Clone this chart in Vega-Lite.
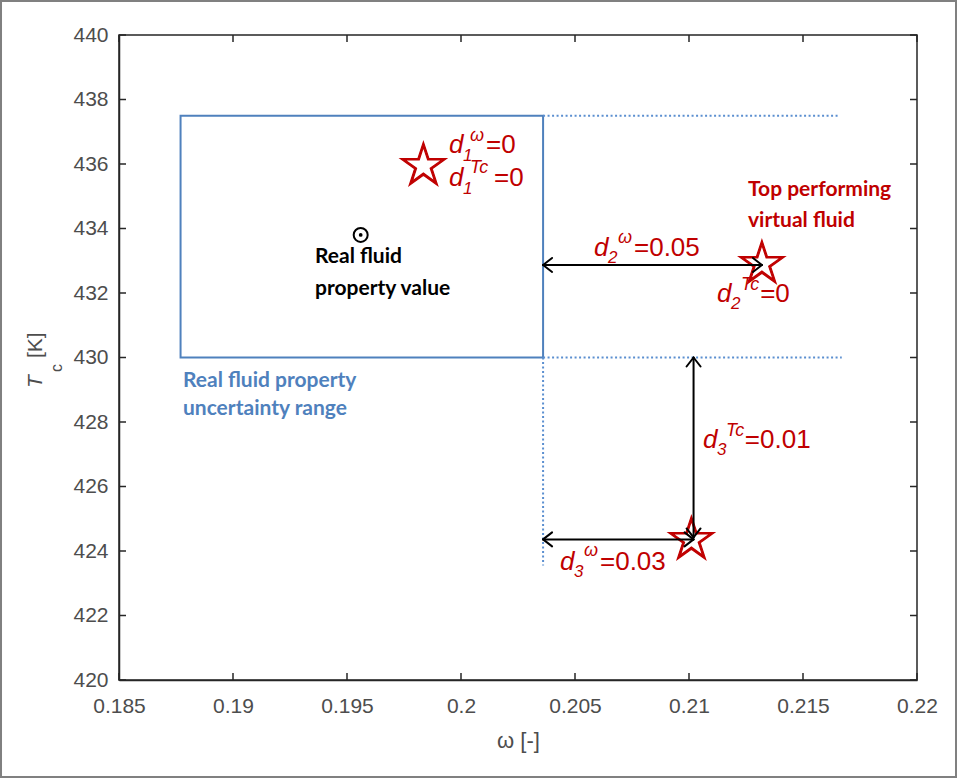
{
  "$schema": "https://vega.github.io/schema/vega-lite/v6.json",
  "width": 798,
  "height": 645,
  "autosize": {"type": "none"},
  "padding": {"left": 119, "top": 35, "right": 40, "bottom": 98},
  "background": "white",
  "config": {"view": {"stroke": "#262626", "strokeWidth": 1.5}},
  "layer": [
    {
      "data": {"values": [{"x": 0.1877, "x2": 0.2036, "y": 430, "y2": 437.5}]},
      "mark": {"type": "rect", "filled": false, "color": "#4F81BD", "strokeWidth": 2},
      "encoding": {
        "x": {"field": "x", "type": "quantitative", "scale": {"domain": [0.185, 0.22], "nice": false, "zero": false},
          "axis": {"values": [0.185, 0.19, 0.195, 0.2, 0.205, 0.21, 0.215, 0.22], "format": "~g", "title": "ω [-]", "ticks": false, "labelPadding": 15, "grid": false, "domainColor": "#262626", "domainWidth": 1.5, "labelColor": "#4D4D4D", "labelFont": "Liberation Sans", "labelFontSize": 21, "labelFlush": false, "labelOverlap": false, "titleFont": "Liberation Sans", "titleFontSize": 22, "titleFontWeight": "normal", "titleColor": "#4D4D4D", "titlePadding": 14}},
        "y": {"field": "y", "type": "quantitative", "scale": {"domain": [420, 440], "nice": false, "zero": false},
          "axis": {"values": [420, 422, 424, 426, 428, 430, 432, 434, 436, 438, 440], "format": "d", "title": null, "ticks": false, "labelPadding": 11, "grid": false, "domainColor": "#262626", "domainWidth": 1.5, "labelColor": "#4D4D4D", "labelFont": "Liberation Sans", "labelFontSize": 21, "labelFlush": false, "labelOverlap": false}},
        "x2": {"field": "x2"},
        "y2": {"field": "y2"}
      }
    },
    {
      "data": {"values": [
        {"x": 0.185, "y": 440, "y2": 439.783}, {"x": 0.19, "y": 440, "y2": 439.783}, {"x": 0.195, "y": 440, "y2": 439.783}, {"x": 0.2, "y": 440, "y2": 439.783}, {"x": 0.205, "y": 440, "y2": 439.783}, {"x": 0.21, "y": 440, "y2": 439.783}, {"x": 0.215, "y": 440, "y2": 439.783}, {"x": 0.22, "y": 440, "y2": 439.783},
        {"x": 0.185, "y": 420, "y2": 420.217}, {"x": 0.19, "y": 420, "y2": 420.217}, {"x": 0.195, "y": 420, "y2": 420.217}, {"x": 0.2, "y": 420, "y2": 420.217}, {"x": 0.205, "y": 420, "y2": 420.217}, {"x": 0.21, "y": 420, "y2": 420.217}, {"x": 0.215, "y": 420, "y2": 420.217}, {"x": 0.22, "y": 420, "y2": 420.217}
      ]},
      "mark": {"type": "rule", "strokeWidth": 1.5, "color": "#262626"},
      "encoding": {
        "x": {"field": "x", "type": "quantitative"},
        "y": {"field": "y", "type": "quantitative"},
        "y2": {"field": "y2"}
      }
    },
    {
      "data": {"values": [
        {"x": 0.185, "x2": 0.185307, "y": 420}, {"x": 0.185, "x2": 0.185307, "y": 422}, {"x": 0.185, "x2": 0.185307, "y": 424}, {"x": 0.185, "x2": 0.185307, "y": 426}, {"x": 0.185, "x2": 0.185307, "y": 428}, {"x": 0.185, "x2": 0.185307, "y": 430}, {"x": 0.185, "x2": 0.185307, "y": 432}, {"x": 0.185, "x2": 0.185307, "y": 434}, {"x": 0.185, "x2": 0.185307, "y": 436}, {"x": 0.185, "x2": 0.185307, "y": 438}, {"x": 0.185, "x2": 0.185307, "y": 440},
        {"x": 0.22, "x2": 0.219693, "y": 420}, {"x": 0.22, "x2": 0.219693, "y": 422}, {"x": 0.22, "x2": 0.219693, "y": 424}, {"x": 0.22, "x2": 0.219693, "y": 426}, {"x": 0.22, "x2": 0.219693, "y": 428}, {"x": 0.22, "x2": 0.219693, "y": 430}, {"x": 0.22, "x2": 0.219693, "y": 432}, {"x": 0.22, "x2": 0.219693, "y": 434}, {"x": 0.22, "x2": 0.219693, "y": 436}, {"x": 0.22, "x2": 0.219693, "y": 438}, {"x": 0.22, "x2": 0.219693, "y": 440}
      ]},
      "mark": {"type": "rule", "strokeWidth": 1.5, "color": "#262626"},
      "encoding": {
        "x": {"field": "x", "type": "quantitative"},
        "x2": {"field": "x2"},
        "y": {"field": "y", "type": "quantitative"}
      }
    },
    {
      "data": {"values": [
        {"x": 0.2036, "x2": 0.2166, "y": 437.5, "y2": 437.5},
        {"x": 0.2036, "x2": 0.2167, "y": 430, "y2": 430},
        {"x": 0.2036, "x2": 0.2036, "y": 430, "y2": 423.55}
      ]},
      "mark": {"type": "rule", "color": "#5B8FD0", "strokeWidth": 2, "strokeDash": [2, 2.5]},
      "encoding": {
        "x": {"field": "x", "type": "quantitative"},
        "y": {"field": "y", "type": "quantitative"},
        "x2": {"field": "x2"},
        "y2": {"field": "y2"}
      }
    },
    {
      "data": {"values": [{"x": 0.19835, "y": 435.9, "t": "☆"}, {"x": 0.2132, "y": 432.87, "t": "☆"}, {"x": 0.2101, "y": 424.3, "t": "☆"}]},
      "mark": {"type": "text", "font": "DejaVu Sans", "fontSize": 60, "color": "#C00000", "stroke": "#C00000", "strokeWidth": 1.2, "align": "center", "baseline": "middle"},
      "encoding": {
        "x": {"field": "x", "type": "quantitative"},
        "y": {"field": "y", "type": "quantitative"},
        "text": {"field": "t", "type": "nominal"}
      }
    },
    {
      "data": {"values": [
        {"x": 0.199474, "y": 436.341, "t": "d"},
        {"x": 0.199474, "y": 435.318, "t": "d"},
        {"x": 0.205833, "y": 433.147, "t": "d"},
        {"x": 0.211228, "y": 431.721, "t": "d"},
        {"x": 0.210614, "y": 427.194, "t": "d"},
        {"x": 0.204342, "y": 423.411, "t": "d"}
      ]},
      "mark": {"type": "text", "font": "Liberation Sans", "fontSize": 26, "fontStyle": "italic", "color": "#C00000", "align": "left", "baseline": "alphabetic"},
      "encoding": {
        "x": {"field": "x", "type": "quantitative"},
        "y": {"field": "y", "type": "quantitative"},
        "text": {"field": "t", "type": "nominal"}
      }
    },
    {
      "data": {"values": [
        {"x": 0.201096, "y": 436.341, "t": "=0"},
        {"x": 0.201450, "y": 435.318, "t": "=0"},
        {"x": 0.207588, "y": 433.147, "t": "=0.05"},
        {"x": 0.213120, "y": 431.721, "t": "=0"},
        {"x": 0.212450, "y": 427.194, "t": "=0.01"},
        {"x": 0.206096, "y": 423.411, "t": "=0.03"}
      ]},
      "mark": {"type": "text", "font": "Liberation Sans", "fontSize": 26, "color": "#C00000", "align": "left", "baseline": "alphabetic"},
      "encoding": {
        "x": {"field": "x", "type": "quantitative"},
        "y": {"field": "y", "type": "quantitative"},
        "text": {"field": "t", "type": "nominal"}
      }
    },
    {
      "data": {"values": [
        {"x": 0.200088, "y": 436.093, "t": "1"},
        {"x": 0.200088, "y": 435.070, "t": "1"},
        {"x": 0.206447, "y": 432.930, "t": "2"},
        {"x": 0.211842, "y": 431.504, "t": "2"},
        {"x": 0.211228, "y": 426.977, "t": "3"},
        {"x": 0.204956, "y": 423.194, "t": "3"}
      ]},
      "mark": {"type": "text", "font": "Liberation Sans", "fontSize": 17, "fontStyle": "italic", "color": "#C00000", "align": "left", "baseline": "alphabetic"},
      "encoding": {
        "x": {"field": "x", "type": "quantitative"},
        "y": {"field": "y", "type": "quantitative"},
        "text": {"field": "t", "type": "nominal"}
      }
    },
    {
      "data": {"values": [
        {"x": 0.200395, "y": 436.72, "t": "ω"},
        {"x": 0.200395, "y": 435.73, "t": "Tc"},
        {"x": 0.206886, "y": 433.56, "t": "ω"},
        {"x": 0.212281, "y": 432.10, "t": "Tc"},
        {"x": 0.211623, "y": 427.575, "t": "Tc"},
        {"x": 0.205395, "y": 423.855, "t": "ω"}
      ]},
      "mark": {"type": "text", "font": "Liberation Sans", "fontSize": 18, "fontStyle": "italic", "color": "#C00000", "align": "left", "baseline": "alphabetic"},
      "encoding": {
        "x": {"field": "x", "type": "quantitative"},
        "y": {"field": "y", "type": "quantitative"},
        "text": {"field": "t", "type": "nominal"}
      }
    },
    {
      "data": {"values": [
        {"x": 0.193596, "y": 432.930, "t": "Real fluid"},
        {"x": 0.193596, "y": 431.938, "t": "property value"}
      ]},
      "mark": {"type": "text", "font": "Lato", "fontSize": 21, "fontWeight": "bold", "color": "black", "align": "left", "baseline": "alphabetic"},
      "encoding": {
        "x": {"field": "x", "type": "quantitative"},
        "y": {"field": "y", "type": "quantitative"},
        "text": {"field": "t", "type": "nominal"}
      }
    },
    {
      "data": {"values": [
        {"x": 0.187807, "y": 429.085, "t": "Real fluid property"},
        {"x": 0.187807, "y": 428.217, "t": "uncertainty range"}
      ]},
      "mark": {"type": "text", "font": "Lato", "fontSize": 21, "fontWeight": "bold", "color": "#4F81BD", "align": "left", "baseline": "alphabetic"},
      "encoding": {
        "x": {"field": "x", "type": "quantitative"},
        "y": {"field": "y", "type": "quantitative"},
        "text": {"field": "t", "type": "nominal"}
      }
    },
    {
      "data": {"values": [
        {"x": 0.212588, "y": 435.008, "t": "Top performing"},
        {"x": 0.212588, "y": 434.047, "t": "virtual fluid"}
      ]},
      "mark": {"type": "text", "font": "Lato", "fontSize": 21, "fontWeight": "bold", "color": "#C00000", "align": "left", "baseline": "alphabetic"},
      "encoding": {
        "x": {"field": "x", "type": "quantitative"},
        "y": {"field": "y", "type": "quantitative"},
        "text": {"field": "t", "type": "nominal"}
      }
    },
    {
      "data": {"values": [
        {"x": 0.2036, "x2": 0.2132, "y": 432.87, "y2": 432.87},
        {"x": 0.2036, "x2": 0.2102, "y": 424.36, "y2": 424.36},
        {"x": 0.2102, "x2": 0.2102, "y": 430, "y2": 424.42},
        {"x": 0.2036, "x2": 0.203995, "y": 432.87, "y2": 433.087},
        {"x": 0.2036, "x2": 0.203995, "y": 432.87, "y2": 432.653},
        {"x": 0.2132, "x2": 0.212805, "y": 432.87, "y2": 433.087},
        {"x": 0.2132, "x2": 0.212805, "y": 432.87, "y2": 432.653},
        {"x": 0.2036, "x2": 0.203995, "y": 424.36, "y2": 424.577},
        {"x": 0.2036, "x2": 0.203995, "y": 424.36, "y2": 424.143},
        {"x": 0.2102, "x2": 0.209805, "y": 424.36, "y2": 424.577},
        {"x": 0.2102, "x2": 0.209805, "y": 424.36, "y2": 424.143},
        {"x": 0.2102, "x2": 0.209893, "y": 430, "y2": 429.721},
        {"x": 0.2102, "x2": 0.210507, "y": 430, "y2": 429.721},
        {"x": 0.2102, "x2": 0.209893, "y": 424.42, "y2": 424.699},
        {"x": 0.2102, "x2": 0.210507, "y": 424.42, "y2": 424.699}
      ]},
      "mark": {"type": "rule", "color": "black", "strokeWidth": 2, "strokeCap": "round"},
      "encoding": {
        "x": {"field": "x", "type": "quantitative"},
        "y": {"field": "y", "type": "quantitative"},
        "x2": {"field": "x2"}, "y2": {"field": "y2"}
      }
    },
    {
      "data": {"values": [{"x": 0.1956, "y": 433.8}]},
      "mark": {"type": "point", "shape": "circle", "filled": false, "color": "black", "strokeWidth": 2, "size": 196, "opacity": 1},
      "encoding": {
        "x": {"field": "x", "type": "quantitative"},
        "y": {"field": "y", "type": "quantitative"}
      }
    },
    {
      "data": {"values": [{"x": 0.1956, "y": 433.8}]},
      "mark": {"type": "point", "shape": "circle", "filled": true, "color": "black", "size": 14, "opacity": 1},
      "encoding": {
        "x": {"field": "x", "type": "quantitative"},
        "y": {"field": "y", "type": "quantitative"}
      }
    },
    {
      "data": {"values": [{"x": 0.181623, "y": 429.054, "t": "T"}]},
      "mark": {"type": "text", "font": "Liberation Sans", "fontSize": 21, "fontStyle": "italic", "color": "#4D4D4D", "align": "left", "baseline": "alphabetic", "angle": 270},
      "encoding": {
        "x": {"field": "x", "type": "quantitative"},
        "y": {"field": "y", "type": "quantitative"},
        "text": {"field": "t", "type": "nominal"}
      }
    },
    {
      "data": {"values": [{"x": 0.1825, "y": 429.55, "t": "c"}]},
      "mark": {"type": "text", "font": "Liberation Sans", "fontSize": 16, "color": "#4D4D4D", "align": "left", "baseline": "alphabetic", "angle": 270},
      "encoding": {
        "x": {"field": "x", "type": "quantitative"},
        "y": {"field": "y", "type": "quantitative"},
        "text": {"field": "t", "type": "nominal"}
      }
    },
    {
      "data": {"values": [{"x": 0.181623, "y": 429.984, "t": "[K]"}]},
      "mark": {"type": "text", "font": "Liberation Sans", "fontSize": 21, "color": "#4D4D4D", "align": "left", "baseline": "alphabetic", "angle": 270},
      "encoding": {
        "x": {"field": "x", "type": "quantitative"},
        "y": {"field": "y", "type": "quantitative"},
        "text": {"field": "t", "type": "nominal"}
      }
    },
    {
      "data": {"values": [{"x": 0.179825, "x2": 0.221711, "y": 441.054, "y2": 416.992}]},
      "mark": {"type": "rect", "filled": false, "color": "#808080", "strokeWidth": 2},
      "encoding": {
        "x": {"field": "x", "type": "quantitative"},
        "y": {"field": "y", "type": "quantitative"},
        "x2": {"field": "x2"}, "y2": {"field": "y2"}
      }
    }
  ]
}
